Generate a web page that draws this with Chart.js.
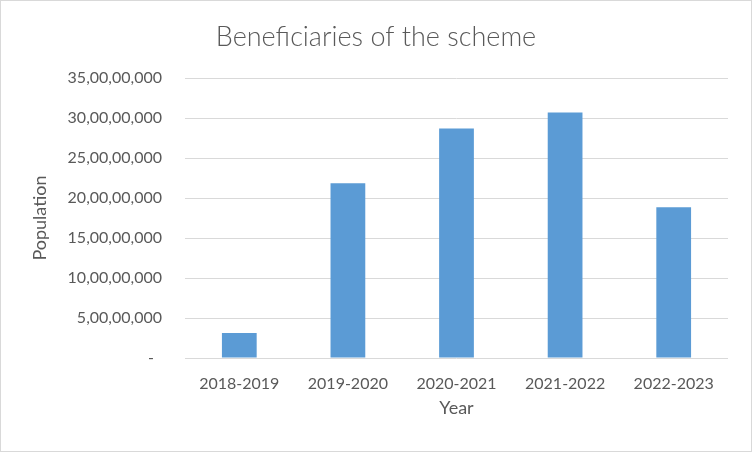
<!DOCTYPE html>
<html>
<head>
<meta charset="utf-8">
<script src="https://cdn.jsdelivr.net/npm/chart.js@4/dist/chart.umd.min.js"></script>
<style>
html,body{margin:0;padding:0;background:#fff;}
#wrap{position:absolute;left:0;top:0;width:752px;height:452px;box-sizing:border-box;border:1px solid #d9d9d9;background:#fff;}
canvas{display:block;}
</style>
</head>
<body>
<div id="wrap"><canvas id="c" width="750" height="450"></canvas></div>
<script>
const years = ['2018-2019','2019-2020','2020-2021','2021-2022','2022-2023'];
const beneficiaries = [31200000, 218500000, 287000000, 307000000, 188500000];
const yMin = 0, yMax = 350000000, yStep = 50000000;
const chartTitle = 'Beneficiaries of the scheme';
const xTitle = 'Year';
const yTitle = 'Population';

function indianFormat(v){
  if (v === 0) return '-\u2002';
  let s = Math.round(v).toString();
  let last3 = s.slice(-3);
  let rest = s.slice(0, -3);
  if (rest.length) {
    rest = rest.replace(/\B(?=(\d{2})+(?!\d))/g, ',');
    return rest + ',' + last3;
  }
  return last3;
}

const FONT = 'Lato';
const TXT = '#595959';

new Chart(document.getElementById('c'), {
  type: 'bar',
  data: {
    labels: years,
    datasets: [{
      data: beneficiaries,
      backgroundColor: '#5B9BD5',
      borderWidth: 0,
      categoryPercentage: 1.0,
      barPercentage: 0.32
    }]
  },
  options: {
    responsive: false,
    animation: false,
    layout: { padding: { left: 23, right: 23, top: 1, bottom: 0 } },
    plugins: {
      legend: { display: false },
      tooltip: { enabled: false },
      title: {
        display: true,
        text: chartTitle,
        color: TXT,
        font: { family: FONT, size: 27, weight: '300' },
        padding: { top: 19, bottom: 24.6 }
      }
    },
    scales: {
      x: {
        grid: { display: false, drawTicks: false },
        border: { display: false },
        ticks: { color: TXT, font: { family: FONT, size: 16 }, padding: 16, maxRotation: 0 },
        title: { display: true, text: xTitle, color: TXT, font: { family: FONT, size: 18 }, padding: { top: 4, bottom: 32 } },
        afterFit: s => { s.height = 93; }
      },
      y: {
        min: yMin, max: yMax,
        grid: { color: '#d9d9d9', lineWidth: 1, drawTicks: false },
        border: { display: false },
        ticks: { stepSize: yStep, color: TXT, font: { family: FONT, size: 16 }, padding: 23, callback: v => indianFormat(v) },
        title: { display: true, text: yTitle, color: TXT, font: { family: FONT, size: 18 }, padding: { top: 5, bottom: 0 } },
        afterFit: s => { s.width = 161; }
      }
    }
  }
});
</script>
</body>
</html>
